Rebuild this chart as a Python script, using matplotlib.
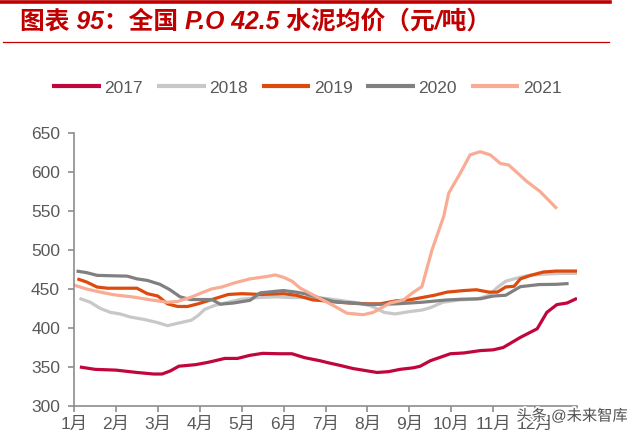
import matplotlib
matplotlib.use("Agg")
import matplotlib.pyplot as plt
import matplotlib.patheffects as pe
from matplotlib.lines import Line2D

plt.rcParams['font.family'] = ['Liberation Sans', 'Noto Sans CJK SC', 'DejaVu Sans']

months = ['1月', '2月', '3月', '4月', '5月', '6月', '7月', '8月', '9月', '10月', '11月', '12月']

# x positions in months after 1月 start, values in 元/吨
x2017 = [0.14, 0.5, 1.0, 1.5, 1.9, 2.1, 2.3, 2.5, 2.9, 3.2, 3.6, 3.9, 4.2, 4.5, 4.9, 5.2, 5.5, 5.87,
         6.1, 6.35, 6.66, 7.0, 7.23, 7.5, 7.78, 8.1, 8.26, 8.5, 8.98, 9.3, 9.69, 10.0, 10.24, 10.65,
         11.05, 11.28, 11.52, 11.76, 12.0]
y2017 = [350, 347, 346, 343, 341, 341, 345, 351, 353, 356, 361, 361, 365, 367.5, 367, 367, 362, 358,
         355, 352, 348, 345, 343, 344, 347, 349, 351, 358, 367, 368, 371, 372, 375, 388,
         399, 420, 430, 432, 438]

x2018 = [0.13, 0.39, 0.63, 0.87, 1.1, 1.35, 1.67, 1.99, 2.23, 2.47, 2.8, 2.96, 3.12, 3.36, 3.68, 4.0,
         4.4, 4.8, 5.2, 5.6, 6.0, 6.4, 6.8, 7.1, 7.4, 7.66, 8.0, 8.3, 8.5, 8.8, 9.2, 9.6, 9.9, 10.1,
         10.3, 10.5, 10.8, 11.2, 11.6, 12.0]
y2018 = [438, 433, 425, 420, 418, 414, 411, 407, 403, 406, 410, 416, 424, 429, 433, 437,
         439, 440, 439, 439, 438, 435, 432, 428, 420, 418, 421, 423, 426, 433, 436, 437, 442, 452,
         460, 463, 467, 469, 470, 470]

x2019 = [0.08, 0.3, 0.55, 0.8, 1.27, 1.5, 1.75, 2.0, 2.23, 2.47, 2.71, 2.96, 3.2, 3.44, 3.68, 4.0,
         4.48, 5.0, 5.3, 5.7, 5.93, 6.3, 6.6, 7.0, 7.3, 7.7, 8.0, 8.2, 8.6, 8.9, 9.3, 9.6, 9.9, 10.1,
         10.3, 10.5, 10.65, 10.9, 11.2, 11.5, 12.0]
y2019 = [463, 459, 452.5, 451, 451, 451, 444, 441, 431, 427.6, 427.6, 431, 435, 439, 443, 444,
         443, 444, 442, 436, 435, 433, 432, 431, 431, 435, 436, 438, 442, 446, 448, 449, 446, 446,
         452.6, 453.5, 463, 467.6, 471.8, 473, 473]

x2020 = [0.06, 0.3, 0.55, 0.87, 1.27, 1.5, 1.75, 2.05, 2.29, 2.53, 2.77, 3.0, 3.29, 3.49, 3.8, 4.2,
         4.44, 4.8, 5.0, 5.3, 5.5, 5.9, 6.2, 6.6, 7.1, 7.7, 8.3, 8.9, 9.3, 9.7, 10.0, 10.3, 10.65,
         11.1, 11.5, 11.8]
y2020 = [473, 471, 467.5, 467, 466.5, 463, 461, 456, 449, 440, 436.5, 436.5, 436.5, 430.5, 432, 435.5,
         445, 447, 448, 446, 444, 438, 434, 432, 430, 431, 433, 436, 437, 437.5, 441, 442, 453,
         455.7, 456, 457]

x2021 = [0, 0.3, 0.63, 0.95, 1.43, 1.83, 2.23, 2.47, 2.8, 3.04, 3.28, 3.52, 3.84, 4.2, 4.6, 4.8,
         5.0, 5.2, 5.4, 5.79, 6.18, 6.51, 6.9, 7.14, 7.54, 7.86, 8.1, 8.3, 8.54, 8.82, 8.94, 9.21,
         9.45, 9.69, 9.93, 10.17, 10.37, 10.8, 11.12, 11.52]
y2021 = [455, 450, 446, 442.6, 439.6, 436, 433, 434, 439.6, 445, 450, 452.5, 458, 463, 466, 468,
         465, 460, 451, 440, 429, 419, 417, 420, 432, 436, 446, 453, 500, 543, 573, 598,
         622, 626, 622, 611, 609, 588, 575, 553]

series = [
    ('2017', x2017, y2017, '#C0063C'),
    ('2018', x2018, y2018, '#C8C8C8'),
    ('2019', x2019, y2019, '#DD4A0E'),
    ('2020', x2020, y2020, '#808080'),
    ('2021', x2021, y2021, '#F9AC94'),
]

fig = plt.figure(figsize=(6.4, 4.43), dpi=100)

# header bars and title
fig.add_artist(Line2D([0, 610 / 640], [1 - 1.7 / 443, 1 - 1.7 / 443], color='#C00000', lw=2.6))
fig.add_artist(Line2D([3 / 640, 609 / 640], [1 - 41.7 / 443, 1 - 41.7 / 443], color='#C00000', lw=0.9))
fig.text(20 / 640, 1 - 22 / 443, '图表 95：全国 P.O 42.5 水泥均价（元/吨）', color='#C00000',
         fontsize=17.8, fontweight='bold', fontstyle='italic', va='center', ha='left')

ax = fig.add_axes([74 / 640, 1 - 406 / 443, 503 / 640, 273 / 443])
for name, xs, ys, c in series:
    ax.plot(xs, ys, color=c, lw=2.3, label=name, solid_capstyle='butt')

ax.set_xlim(0, 12)
ax.set_ylim(300, 650)
ax.set_yticks(range(300, 651, 50))
ax.set_xticks(range(0, 13))
ax.set_xticklabels(months + [''])
for s in ['top', 'right']:
    ax.spines[s].set_visible(False)
for s in ['left', 'bottom']:
    ax.spines[s].set_color('#8C8C8C')
    ax.spines[s].set_linewidth(1.2)
ax.tick_params(direction='out', length=4, width=1.2, color='#8C8C8C', labelcolor='#595959',
               labelsize=12.5)
ax.tick_params(axis='y', pad=6)

leg = fig.legend(loc='center', bbox_to_anchor=(307 / 640, 1 - 88 / 443), ncol=5, frameon=False,
                 fontsize=12.5, handlelength=2.8, handletextpad=0.2, columnspacing=0.8)
for t in leg.get_texts():
    t.set_color('#595959')
for h in leg.get_lines():
    h.set_linewidth(3)

fig.text(572 / 640, 1 - 416 / 443, '头条 @未来智库', color='#505050', fontsize=11, ha='center',
         va='center', path_effects=[pe.withStroke(linewidth=2.5, foreground='white')])

fig.savefig('out.png', dpi=100)
